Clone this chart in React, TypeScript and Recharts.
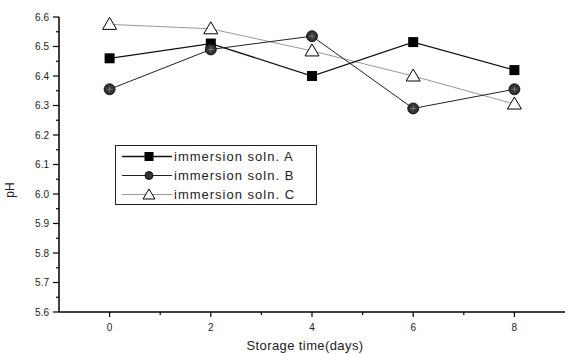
import { LineChart, Line, XAxis, YAxis } from 'recharts'

const days = [0, 2, 4, 6, 8]
const solnA = [6.46, 6.51, 6.4, 6.515, 6.42]
const solnB = [6.355, 6.49, 6.535, 6.29, 6.355]
const solnC = [6.575, 6.56, 6.485, 6.4, 6.305]
const seriesNames = ['immersion soln. A', 'immersion soln. B', 'immersion soln. C']
const xTicks = [0, 1, 2, 3, 4, 5, 6, 7, 8]
const yTicks = Array.from({ length: 21 }, (_, i) => Math.round((5.6 + i * 0.05) * 100) / 100)

const data = days.map((d, i) => ({ day: d, A: solnA[i], B: solnB[i], C: solnC[i] }))

const FONT = 'Liberation Sans, Arial, sans-serif'

const Square = ({ cx, cy }: any) => <rect x={cx - 5} y={cy - 5} width={10} height={10} fill="#000" />

const Circle = ({ cx, cy }: any) => (
  <g>
    <circle cx={cx} cy={cy} r={5.5} fill="#333" stroke="#000" strokeWidth={0.8} />
    <path d={`M${cx - 3},${cy} H${cx + 3} M${cx},${cy - 3} V${cy + 3}`} stroke="#888" strokeWidth={0.8} />
  </g>
)

const Triangle = ({ cx, cy }: any) => (
  <polygon
    points={`${cx},${cy - 7} ${cx - 7},${cy + 5} ${cx + 7},${cy + 5}`}
    fill="#fff"
    stroke="#000"
    strokeWidth={1}
  />
)

const XTick = ({ x, y, payload }: any) => {
  const major = payload.value % 2 === 0
  return (
    <g>
      <line x1={x} x2={x} y1={y} y2={y + (major ? 5 : 3)} stroke="#000" strokeWidth={1.2} />
      {major && (
        <text x={x} y={y + 19} textAnchor="middle" fontSize={10} fontFamily={FONT} fill="#222">
          {payload.value}
        </text>
      )}
    </g>
  )
}

const YTick = ({ x, y, payload }: any) => {
  const major = Math.round(payload.value * 100) % 10 === 0
  return (
    <g>
      <line x1={x - (major ? 6 : 3)} x2={x} y1={y} y2={y} stroke="#000" strokeWidth={1.2} />
      {major && (
        <text x={x - 10} y={y + 3.5} textAnchor="end" fontSize={10} fontFamily={FONT} fill="#222">
          {payload.value.toFixed(1)}
        </text>
      )}
    </g>
  )
}

const legendMarks = [
  <rect key="a" x={22.5} y={4} width={9} height={9} fill="#000" />,
  <circle key="b" cx={27} cy={8.5} r={4} fill="#333" stroke="#000" strokeWidth={0.8} />,
  <polygon key="c" points="27,3 21,13 33,13" fill="#fff" stroke="#000" strokeWidth={1} />,
]
const legendStrokes = ['#111', '#222', '#999']

export default function App() {
  return (
    <div style={{ position: 'absolute', left: 0, top: 0, width: 565, height: 354, background: '#fff' }}>
      <LineChart width={565} height={354} data={data} margin={{ top: 17, right: 0, left: 0, bottom: 0 }}>
        <XAxis
          dataKey="day"
          type="number"
          domain={[-1, 9]}
          ticks={xTicks}
          interval={0}
          height={42}
          tickSize={0}
          tickMargin={0}
          tickLine={false}
          tick={<XTick />}
          axisLine={{ stroke: '#000', strokeWidth: 1.5 }}
          label={{
            content: () => (
              <text x={305} y={350} textAnchor="middle" fontSize={13} letterSpacing={0.4} fontFamily={FONT} fill="#222">
                Storage time(days)
              </text>
            ),
          }}
        />
        <YAxis
          type="number"
          domain={[5.6, 6.6]}
          ticks={yTicks}
          interval={0}
          width={59}
          tickSize={0}
          tickMargin={0}
          tickLine={false}
          tick={<YTick />}
          axisLine={{ stroke: '#000', strokeWidth: 1.5 }}
          label={{
            content: () => (
              <text x={14} y={190} transform="rotate(-90 14 190)" textAnchor="middle" fontSize={12} fontFamily={FONT} fill="#222">
                pH
              </text>
            ),
          }}
        />
        <Line dataKey="C" stroke="#999" strokeWidth={1} dot={<Triangle />} isAnimationActive={false} />
        <Line dataKey="A" stroke="#111" strokeWidth={1.3} dot={<Square />} isAnimationActive={false} />
        <Line dataKey="B" stroke="#222" strokeWidth={1} dot={<Circle />} isAnimationActive={false} />
      </LineChart>
      <div
        style={{
          position: 'absolute',
          left: 115,
          top: 145,
          width: 202,
          height: 60,
          border: '1px solid #222',
          fontFamily: FONT,
          fontSize: 13,
          letterSpacing: 1,
          color: '#222',
          padding: '1px 0 0 6px',
          boxSizing: 'border-box',
        }}
      >
        {seriesNames.map((n, i) => (
          <div key={n} style={{ display: 'flex', alignItems: 'center', height: 19 }}>
            <svg width={52} height={17}>
              <line x1={0} x2={50} y1={8.5} y2={8.5} stroke={legendStrokes[i]} strokeWidth={i === 0 ? 1.3 : 1} />
              {legendMarks[i]}
            </svg>
            <span>{n}</span>
          </div>
        ))}
      </div>
    </div>
  )
}
